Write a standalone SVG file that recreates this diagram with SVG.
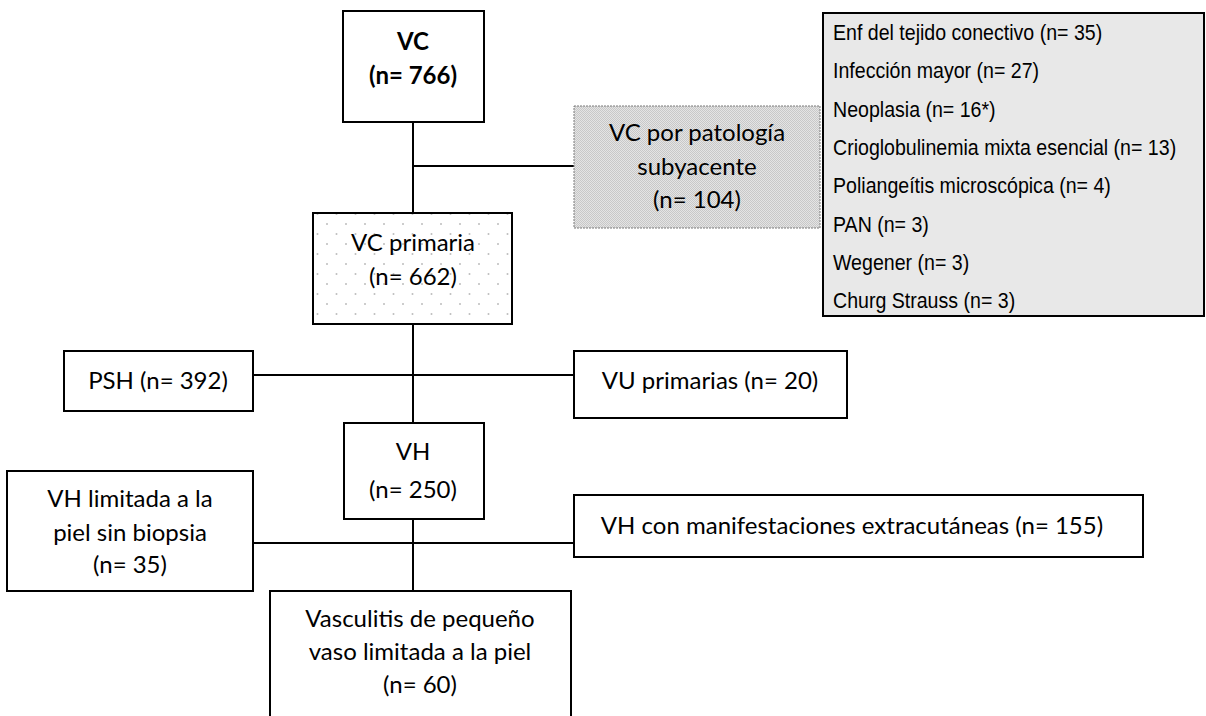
<svg xmlns="http://www.w3.org/2000/svg" width="1206" height="716" viewBox="0 0 1206 716">
<style>
.box{fill:#fff;stroke:#000;stroke-width:2}
.t{font-family:Lato,"Open Sans",sans-serif;font-size:24px;fill:#000;text-anchor:middle}
.b{font-weight:bold}
.l{font-family:"Liberation Sans",Arial,sans-serif;font-size:22px;fill:#000}
.c{stroke:#000;stroke-width:2;fill:none}
</style>
<defs>
<pattern id="chk" width="2" height="2" patternUnits="userSpaceOnUse">
<rect width="2" height="2" fill="#e4e4e4"/>
<rect width="1" height="1" fill="#c8c8c8"/>
<rect x="1" y="1" width="1" height="1" fill="#c8c8c8"/>
</pattern>
<pattern id="dots" width="19" height="20" patternUnits="userSpaceOnUse">
<rect width="19" height="20" fill="#fff"/>
<circle cx="4" cy="4" r="1" fill="#bdbdbd"/>
<circle cx="13.5" cy="14" r="1" fill="#bdbdbd"/>
</pattern>
</defs>
<rect width="1206" height="716" fill="#fff"/>
<g id="connectors">
<path class="c" d="M413 122V213M413 166H574M413 324V423M253 375H574M413 519V591M253 543H574"/>
</g>
<g id="n-vc">
<rect class="box" x="343" y="11" width="141" height="111"/>
<text class="t b" x="413" y="50">VC</text>
<text class="t b" x="413" y="84">(n= 766)</text>
</g>
<g id="n-sub">
<rect x="574" y="106" width="246" height="122" fill="url(#chk)" stroke="#7a7a7a" stroke-width="1" stroke-dasharray="2,1"/>
<text class="t" x="697" y="141">VC por patología</text>
<text class="t" x="697" y="175">subyacente</text>
<text class="t" x="697" y="208">(n= 104)</text>
</g>
<g id="n-list">
<rect x="823" y="13" width="381" height="303" fill="#e8e8e8" stroke="#000" stroke-width="2"/>
<g transform="translate(833,0) scale(0.89,1)">
<text class="l" x="0" y="40">Enf del tejido conectivo (n= 35)</text>
<text class="l" x="0" y="78">Infección mayor (n= 27)</text>
<text class="l" x="0" y="117">Neoplasia (n= 16*)</text>
<text class="l" x="0" y="155">Crioglobulinemia mixta esencial (n= 13)</text>
<text class="l" x="0" y="193">Poliangeítis microscópica (n= 4)</text>
<text class="l" x="0" y="232">PAN (n= 3)</text>
<text class="l" x="0" y="270">Wegener (n= 3)</text>
<text class="l" x="0" y="308">Churg Strauss (n= 3)</text>
</g>
</g>
<g id="n-prim">
<rect x="313" y="213" width="199" height="111" fill="url(#dots)" stroke="#000" stroke-width="2"/>
<text class="t" x="413" y="251">VC primaria</text>
<text class="t" x="413" y="285">(n= 662)</text>
</g>
<g id="n-psh">
<rect class="box" x="64" y="351" width="189" height="60"/>
<text class="t" x="158" y="389">PSH (n= 392)</text>
</g>
<g id="n-vu">
<rect class="box" x="574" y="351" width="273" height="67"/>
<text class="t" x="710" y="389">VU primarias (n= 20)</text>
</g>
<g id="n-vh">
<rect class="box" x="344" y="423" width="140" height="96"/>
<text class="t" x="413" y="460">VH</text>
<text class="t" x="413" y="498">(n= 250)</text>
</g>
<g id="n-lim">
<rect class="box" x="7" y="471" width="246" height="120"/>
<text class="t" x="130" y="507">VH limitada a la</text>
<text class="t" x="130" y="541">piel sin biopsia</text>
<text class="t" x="130" y="573">(n= 35)</text>
</g>
<g id="n-extra">
<rect class="box" x="574" y="495" width="569" height="62"/>
<text class="t" x="852" y="534">VH con manifestaciones extracutáneas (n= 155)</text>
</g>
<g id="n-small">
<path class="box" d="M270 720V591H571V720"/>
<text class="t" x="420" y="627">Vasculitis de pequeño</text>
<text class="t" x="420" y="660">vaso limitada a la piel</text>
<text class="t" x="420" y="693">(n= 60)</text>
</g>
</svg>
